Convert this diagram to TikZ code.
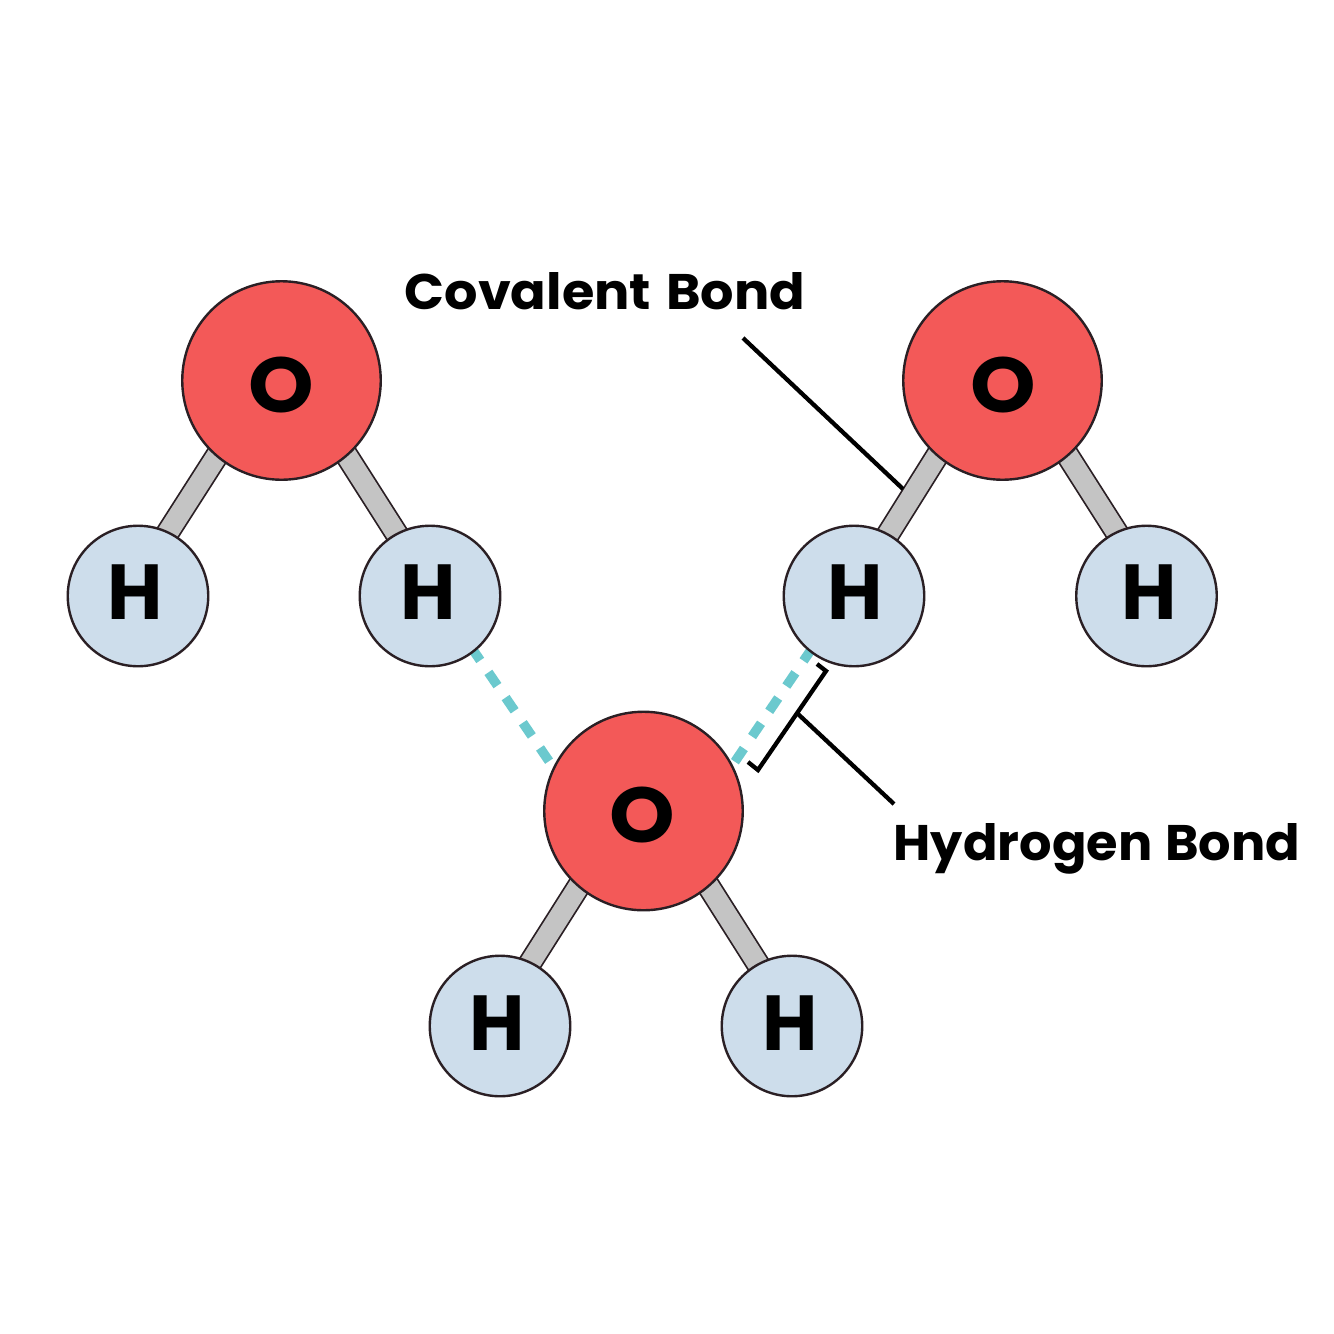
\documentclass[tikz,border=0pt]{standalone}
\usepackage{fontspec}
\setmainfont{Poppins}[BoldFont={* Bold}]
\definecolor{oxy}{HTML}{F35958}
\definecolor{hyd}{HTML}{CDDDEB}
\definecolor{bondc}{HTML}{C4C4C4}
\definecolor{hb}{HTML}{6BC9CE}
\definecolor{ink}{HTML}{2A1F24}
\begin{document}
\begin{tikzpicture}[x=1pt,y=-1pt,
 oatom/.style={circle,draw=ink,line width=2.4pt,fill=oxy,minimum size=198.5pt,inner sep=0pt},
 hatom/.style={circle,draw=ink,line width=2.4pt,fill=hyd,minimum size=140.5pt,inner sep=0pt},
 bond/.style={draw=ink,line width=24pt},
 bondin/.style={draw=bondc,line width=20.5pt},
 hbond/.style={draw=hb,line width=9.5pt,dash pattern=on 16pt off 14.5pt},
 leader/.style={draw=black,line width=4.3pt},
 lbl/.style={font=\fontsize{50}{50}\selectfont\bfseries,text=black,inner sep=0pt},
 atxt/.style={font=\fontsize{78}{78}\selectfont\bfseries,text=black,inner sep=0pt},
 htxt/.style={atxt,xscale=0.97},
 otxt/.style={atxt,xscale=1.07}]
\useasboundingbox (0,0) rectangle (1334,1334);
\fill[white] (0,0) rectangle (1334,1334);
\coordinate (o1) at (281.5,380.5);
\coordinate (h1a) at (138,596);
\coordinate (h1b) at (430,596);
\coordinate (o2) at (1002.5,380.5);
\coordinate (h2a) at (854,596);
\coordinate (h2b) at (1146.5,596);
\coordinate (o3) at (643.5,811);
\coordinate (h3a) at (500,1026);
\coordinate (h3b) at (792,1026);
\coordinate (b1s) at (223.5,445.5); \coordinate (b1e) at (160.5,544);
\coordinate (b2s) at (340,445);     \coordinate (b2e) at (404,545.5);
\coordinate (b3s) at (944.5,444);   \coordinate (b3e) at (881,545.5);
\coordinate (b4s) at (1061,445);    \coordinate (b4e) at (1125,545.5);
\coordinate (b5s) at (585.5,875.5); \coordinate (b5e) at (522.5,975);
\coordinate (b6s) at (701.5,875);   \coordinate (b6e) at (765.5,976);
\foreach \a/\b in {b1s/b1e,b2s/b2e,b3s/b3e,b4s/b4e,b5s/b5e,b6s/b6e}{
 \path[bond] (\a) -- (\b);
 \path[bondin] (\a) -- (\b);
}
\coordinate (hbs1) at (471.2,647.2);
\coordinate (hbe1) at (553,767);
\coordinate (hbs2) at (812.5,647.6);
\coordinate (hbe2) at (734,763);
\path[hbond] (hbs1) -- (hbe1);
\path[hbond] (hbs2) -- (hbe2);
\node[oatom] (O1) at (o1) {};
\node[oatom] (O2) at (o2) {};
\node[oatom] (O3) at (o3) {};
\node[hatom] (H1) at (h1a) {};
\node[hatom] (H2) at (h1b) {};
\node[hatom] (H3) at (h2a) {};
\node[hatom] (H4) at (h2b) {};
\node[hatom] (H5) at (h3a) {};
\node[hatom] (H6) at (h3b) {};
\node[otxt] (tO1) at (281,385) {O};
\node[otxt] (tO2) at (1003,385) {O};
\node[otxt] (tO3) at (642,815) {O};
\node[htxt] (tH1) at (135,592) {H};
\node[htxt] (tH2) at (428,592) {H};
\node[htxt] (tH3) at (855,592) {H};
\node[htxt] (tH4) at (1149,592) {H};
\node[htxt] (tH5) at (497,1023) {H};
\node[htxt] (tH6) at (790,1023) {H};
\node[lbl,xscale=1.05] (cov) at (605,291) {Covalent\hspace{4pt} Bond};
\node[lbl,xscale=1.02] (hyb) at (1097,849) {Hydrogen\hspace{2pt} Bond};
\coordinate (c1) at (743,338);
\coordinate (c2) at (903,489);
\draw[leader] (c1) -- (c2);
\coordinate (d1) at (894,804);
\coordinate (d2) at (798,714);
\draw[leader] (d1) -- (d2);
\coordinate (k1) at (817,664);
\coordinate (k2) at (826,671);
\coordinate (k3) at (758,770);
\coordinate (k4) at (748,762);
\draw[leader,line join=miter] (k1) -- (k2) -- (k3) -- (k4);
\end{tikzpicture}
\end{document}
